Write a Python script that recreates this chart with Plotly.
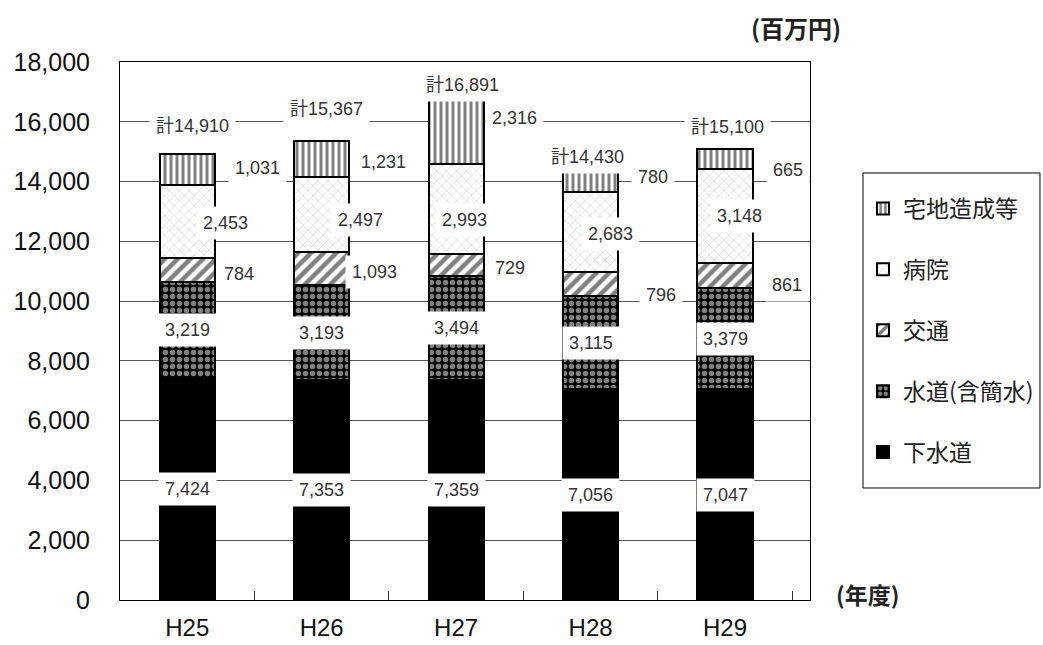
import plotly.graph_objects as go

# ---- data ----
years = ["H25", "H26", "H27", "H28", "H29"]
gesuido = [7424, 7353, 7359, 7056, 7047]        # 下水道
suido = [3219, 3193, 3494, 3115, 3379]          # 水道(含簡水)
kotsu = [784, 1093, 729, 796, 861]              # 交通
byoin = [2453, 2497, 2993, 2683, 3148]          # 病院
takuchi = [1031, 1231, 2316, 780, 665]          # 宅地造成等
totals = [14910, 15367, 16891, 14430, 15100]    # 計

series_names = ["下水道", "水道(含簡水)", "交通", "病院", "宅地造成等"]
series_values = [gesuido, suido, kotsu, byoin, takuchi]

# ---- style (label pixel offsets, relative to bar center / segment middle) ----
patterns = [
    dict(shape=""),
    dict(shape=".", fgcolor="white", bgcolor="black", size=7, solidity=0.5),
    dict(shape="/", fgcolor="black", bgcolor="white", size=9, solidity=0.5),
    dict(shape="x", fgcolor="#a8a8a8", bgcolor="white", size=7, solidity=0.18),
    dict(shape="|", fgcolor="black", bgcolor="white", size=6, solidity=0.5),
]
colors = ["black", "black", "white", "white", "white"]

takuchi_dx = [70, 62, 58, 62, 63]
takuchi_dy = [2, -3, 12, 3, -11]
byoin_dx = [38, 39, 8, 20, 14]
byoin_dy = [-1, -5, -11, -2, 0]
kotsu_dx = [52, 53, 54, 70, 62]
kotsu_dy = [-4, -4, -3, -11, -9]
total_dx = [5, 5, 6, -3, 2]
total_dy = [28, 32, 10, 12, 22]

LABEL_FONT = dict(family="Liberation Sans, Noto Sans CJK JP", size=18, color="#333333")

fig = go.Figure()
n = len(series_names)
for i, (name, vals, pat, col) in enumerate(zip(series_names, series_values, patterns, colors)):
    fig.add_trace(go.Bar(
        x=years, y=vals, name=name, legendgroup=name, legendrank=n - i,
        width=0.41,
        marker=dict(color=col, pattern=pat, line=dict(color="black", width=2)),
        hoverinfo="skip",
    ))

annotations = []


def add_label(x, y, text, dx=0, dy=0):
    annotations.append(dict(
        x=x, y=y, xref="x", yref="y", text=text, showarrow=False,
        xshift=dx, yshift=dy, font=LABEL_FONT, bgcolor="white", borderpad=6,
        xanchor="center", yanchor="middle",
    ))


for i, yr in enumerate(years):
    base = 0
    add_label(yr, base + gesuido[i] / 2, f"{gesuido[i]:,}")
    base += gesuido[i]
    add_label(yr, base + suido[i] / 2, f"{suido[i]:,}")
    base += suido[i]
    add_label(yr, base + kotsu[i] / 2, f"{kotsu[i]:,}", kotsu_dx[i], kotsu_dy[i])
    base += kotsu[i]
    add_label(yr, base + byoin[i] / 2, f"{byoin[i]:,}", byoin_dx[i], byoin_dy[i])
    base += byoin[i]
    add_label(yr, base + takuchi[i] / 2, f"{takuchi[i]:,}", takuchi_dx[i], takuchi_dy[i])
    add_label(yr, totals[i], f"計{totals[i]:,}", total_dx[i], total_dy[i])

annotations.append(dict(
    x=0.98, y=1.065, xref="paper", yref="paper", text="<b>(百万円)</b>",
    showarrow=False, xanchor="center", yanchor="middle",
    font=dict(family="Noto Sans CJK JP", size=24, color="#222"),
))
annotations.append(dict(
    x=1.084, y=0.012, xref="paper", yref="paper", text="<b>(年度)</b>",
    showarrow=False, xanchor="center", yanchor="middle",
    font=dict(family="Noto Sans CJK JP", size=23, color="#222"),
))

fig.update_layout(
    width=1043, height=645,
    margin=dict(l=120, r=233, t=62, b=45, autoexpand=False),
    paper_bgcolor="white", plot_bgcolor="white",
    barmode="stack",
    annotations=annotations,
    shapes=[dict(
        type="rect", xref="paper", yref="paper",
        x0=1.0768, x1=1.3333, y0=0.2082, y1=0.7937,
        line=dict(color="black", width=1), fillcolor="rgba(0,0,0,0)",
    )],
    legend=dict(
        x=1.0768, y=0.7677, xanchor="left", yanchor="top",
        traceorder="grouped", tracegroupgap=28,
        borderwidth=0, bgcolor="rgba(0,0,0,0)",
        font=dict(family="Noto Sans CJK JP", size=23, color="#222"),
    ),
    xaxis=dict(
        type="category", showline=True, linecolor="black", linewidth=1, mirror=True,
        ticks="inside", tickson="boundaries", ticklen=9, tickcolor="#333",
        ticklabelstandoff=6, showgrid=False, automargin=False,
        tickfont=dict(family="Liberation Sans", size=24, color="#111"),
    ),
    yaxis=dict(
        range=[0, 18000], dtick=2000, tickformat=",",
        showline=True, linecolor="black", linewidth=1, mirror=True,
        showgrid=True, gridcolor="#555555", gridwidth=1, automargin=False,
        ticks="", ticklabelstandoff=24, zeroline=False,
        tickfont=dict(family="Liberation Sans", size=25, color="#111"),
    ),
    showlegend=True,
)

fig.write_html("out.html")
